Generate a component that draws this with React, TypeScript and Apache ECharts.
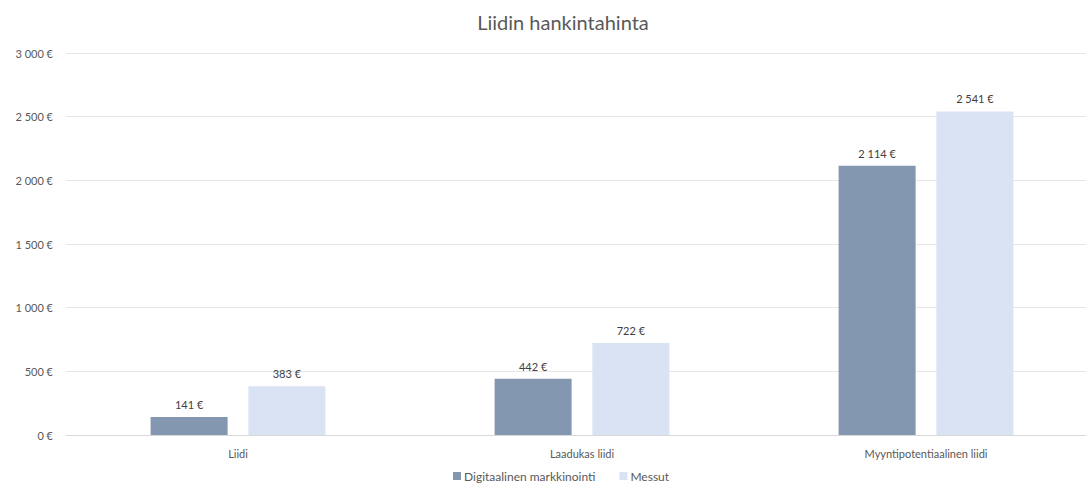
import React, { useEffect, useRef } from "react";
import * as echarts from "echarts";

const categories = ["Liidi", "Laadukas liidi", "Myyntipotentiaalinen liidi"];
const seriesNames = ["Digitaalinen markkinointi", "Messut"];
const digitalValues = [141, 442, 2114];
const messutValues = [383, 722, 2541];
const yTicks = [0, 500, 1000, 1500, 2000, 2500, 3000];
const titleText = "Liidin hankintahinta";

const FONT = "Lato, 'Open Sans', sans-serif";

function fmt(v: number): string {
  const s = Math.round(v).toString();
  return s.replace(/\B(?=(\d{3})+(?!\d))/g, " ") + " €";
}

export default function App() {
  const ref = useRef<HTMLDivElement>(null);
  useEffect(() => {
    document.body.style.margin = "0";
    if (!ref.current) return;
    const chart = echarts.init(ref.current, undefined, { renderer: "svg" });
    chart.setOption({
      animation: false,
      backgroundColor: "#ffffff",
      textStyle: { fontFamily: FONT },
      title: {
        text: titleText,
        left: 558,
        textAlign: "center",
        top: 7,
        textStyle: { fontFamily: FONT, fontSize: 20, fontWeight: "normal", color: "#595959" },
      },
      legend: {
        data: seriesNames,
        left: 448,
        top: 465,
        itemWidth: 8,
        itemHeight: 8,
        itemGap: 24,
        icon: "rect",
        textStyle: { fontFamily: FONT, fontSize: 12, color: "#595959", padding: [0, 0, 0, -2] },
      },
      grid: {
        left: 66,
        width: 1032,
        top: 53,
        bottom: 53,
        containLabel: false,
        outerBoundsMode: "none",
      },
      xAxis: {
        type: "category",
        data: categories,
        axisLine: { show: true, lineStyle: { color: "#d9d9d9" } },
        axisTick: { show: false },
        axisLabel: { fontFamily: FONT, fontSize: 11, color: "#595959", margin: 13 },
      },
      yAxis: {
        type: "value",
        min: yTicks[0],
        max: yTicks[yTicks.length - 1],
        interval: 500,
        axisLine: { show: false },
        axisTick: { show: false },
        splitLine: { lineStyle: { color: "#e6e6e6", width: 1 } },
        axisLabel: {
          fontFamily: FONT,
          fontSize: 11,
          color: "#595959",
          margin: 13,
          formatter: (v: number) => fmt(v),
        },
      },
      series: [
        {
          name: seriesNames[0],
          type: "bar",
          data: digitalValues,
          barWidth: 77,
          barGap: "27%",
          itemStyle: { color: "#8497b0" },
          label: {
            show: true,
            position: "top",
            distance: 7,
            fontFamily: FONT,
            fontSize: 11,
            color: "#404040",
            formatter: (p: any) => fmt(p.value),
          },
        },
        {
          name: seriesNames[1],
          type: "bar",
          data: messutValues,
          barWidth: 77,
          barGap: "27%",
          itemStyle: { color: "#dae3f3" },
          label: {
            show: true,
            position: "top",
            distance: 7,
            fontFamily: FONT,
            fontSize: 11,
            color: "#404040",
            formatter: (p: any) => fmt(p.value),
          },
        },
      ],
    });
    return () => chart.dispose();
  }, []);
  return <div ref={ref} style={{ width: 1086, height: 488 }} />;
}
